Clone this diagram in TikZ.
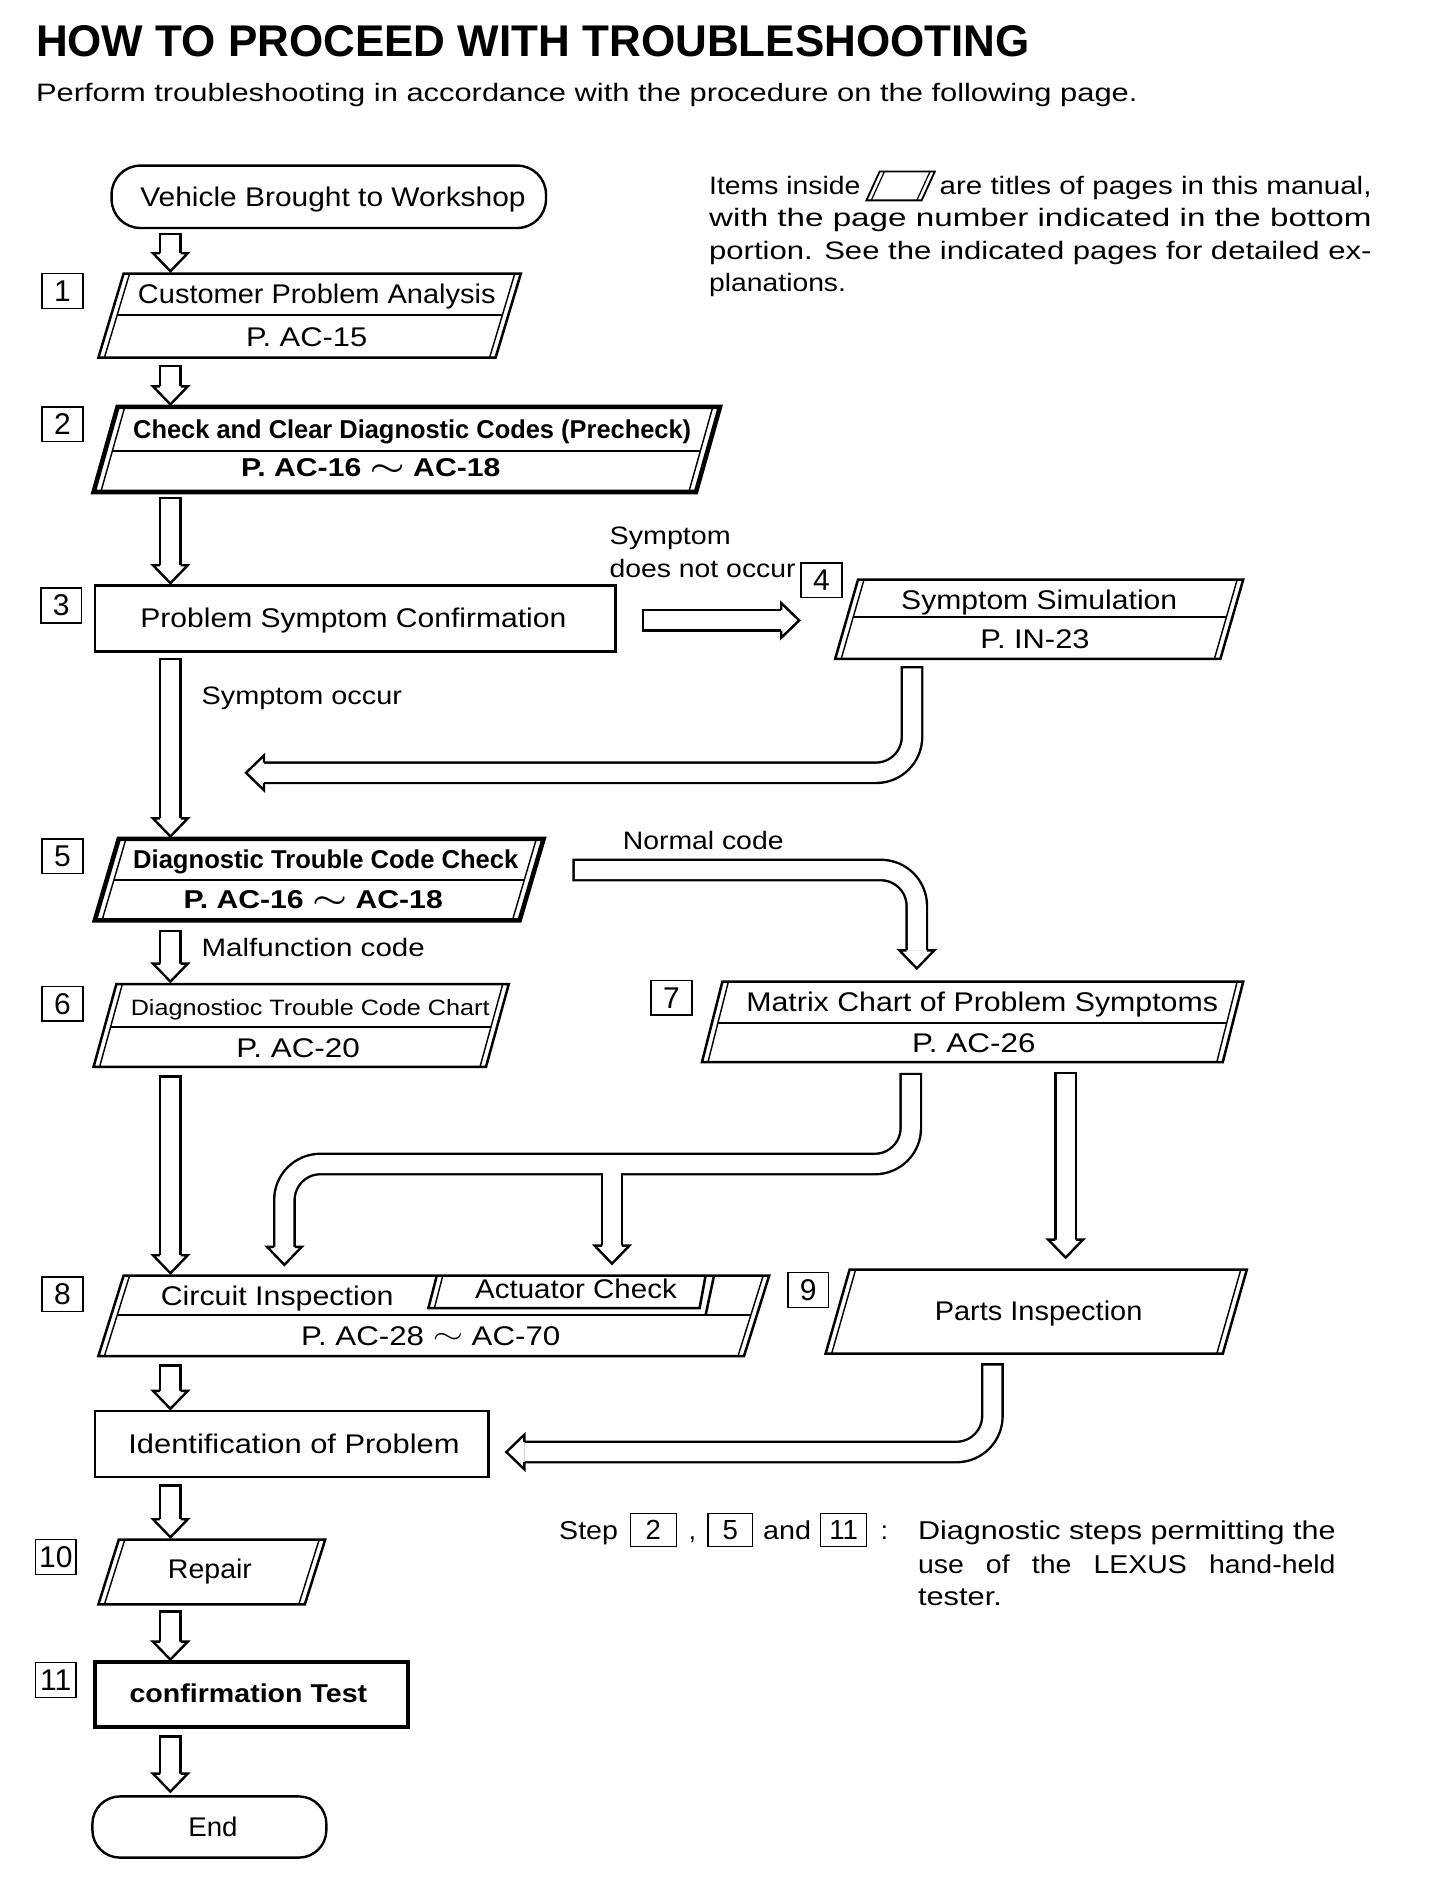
\documentclass[tikz,border=0pt]{standalone}
\usepackage{fontspec}
\setmainfont{Liberation Sans}
\usepackage{graphicx}
\usetikzlibrary{calc,fit}
\newcommand\fitw[2]{\resizebox{#1pt}{\height}{#2}}
\newcommand\fsz[1]{\fontsize{#1}{#1}\selectfont}
\newcommand\tld{\raisebox{0.05em}{\scalebox{1.35}[1.1]{$\sim$}}}
\newcommand\btld{\raisebox{0.05em}{\scalebox{1.35}[1.1]{\boldmath$\sim$}}}
\newcommand\pshape[6]{%
  \coordinate (#1-tl) at (#2,#4);
  \coordinate (#1-tr) at (#3,#4);
  \coordinate (#1-br) at ({#3-#6},#5);
  \coordinate (#1-bl) at ({#2-#6},#5);
  \node[fit=(#1-tl)(#1-tr)(#1-br)(#1-bl), inner sep=0pt, outer sep=0pt] (#1) {};
}
\newcommand\pdraw[4]{%
  \draw[#2] (#1-tl) -- (#1-tr) -- (#1-br) -- (#1-bl) -- cycle;
  \draw[#4] ($(#1-tl)+(#3,0)$) -- ($(#1-bl)+(#3,0)$);
  \draw[#4] ($(#1-tr)+(-#3,0)$) -- ($(#1-br)+(-#3,0)$);
}
\newcommand\pdiv[3]{%
  \draw[divl] ($(#1-tl)!#2!(#1-bl)+(#3,0)$) -- ($(#1-tr)!#2!(#1-br)+(-#3,0)$);
}
\newcommand\blk[3]{%
  \draw[sb] #1;
  \draw[sw, shorten <=2pt] #1;
  \pic[rotate=#3] at #2 {ahead};
}
\begin{document}
\begin{tikzpicture}[x=1pt,y=-1pt,
  every node/.style={outer sep=0pt},
  lab/.style={draw, line width=1.4pt, minimum width=34pt, minimum height=29pt, inner sep=0pt, font=\fsz{25}},
  slab/.style={draw, line width=0.9pt, minimum height=28pt, inner sep=0pt, font=\fsz{23}},
  txt/.style={anchor=base, inner sep=0pt, font=\fsz{22.5}},
  btxt/.style={anchor=base, inner sep=0pt, font=\fsz{21.5}\bfseries},
  side/.style={anchor=base west, inner sep=0pt, font=\fsz{21}},
  boxl/.style={line width=2.1pt, line join=miter},
  boldl/.style={line width=3.8pt, line join=miter},
  innerl/.style={line width=1.2pt},
  divl/.style={line width=1.7pt},
  sb/.style={line width=19pt, black, line cap=butt, line join=round, rounded corners=30pt},
  sw/.style={line width=15pt, white, line cap=butt, line join=round, rounded corners=30pt},
  ahead/.pic={\filldraw[fill=white, draw=black, line width=2pt, line join=miter, miter limit=10] (0,8.5) -- (0,14.5) -- (15,0) -- (0,-14.5) -- (0,-8.5);}
]
\useasboundingbox (0,0) rectangle (1200,1565);
\fill[white] (0,0) rectangle (1200,1565);

% ---------- heading ----------
\node[anchor=base west, inner sep=0pt, font=\fsz{37}\bfseries] (title) at (30,47) {\fitw{828}{HOW TO PROCEED WITH TROUBLESHOOTING}};
\node[anchor=base west, inner sep=0pt, font=\fsz{21}] (sub) at (30,85) {\fitw{918}{Perform troubleshooting in accordance with the procedure on the following page.}};

% ---------- note ----------
\node[side] (note1a) at (591,162) {\fitw{126}{Items inside}};
\draw[line width=1.5pt, line join=miter] (733,143) -- (779,143) -- (768,167) -- (722,167) -- cycle;
\draw[line width=1pt] (737,143) -- (726,167);
\draw[line width=1pt] (775,143) -- (764,167);
\node[side] (note1b) at (783,162) {\fitw{360}{are titles of pages in this manual,}};
\node[side] (note2) at (591,189) {\fitw{552}{with the page number indicated in the bottom}};
\node[side] (note3) at (591,216) {\fitw{552}{portion. See the indicated pages for detailed ex-}};
\node[side] (note4) at (591,243) {\fitw{114}{planations.}};

% ---------- start ----------
\node[draw, line width=2pt, rounded corners=24pt, minimum width=362pt, minimum height=52pt, inner sep=0pt] (veh) at (274,164) {};
\node[txt] (vehT) at (277.5,172) {\fitw{321}{Vehicle Brought to Workshop}};

% ---------- 1 ----------
\node[lab] (n1) at (52,242.5) {1};
\pshape{b1}{103}{434}{228}{298}{21}
\pdraw{b1}{boxl}{5}{innerl}
\pdiv{b1}{0.49}{5}
\node[txt] (b1a) at (264,253) {\fitw{298}{Customer Problem Analysis}};
\node[txt] (b1b) at (255.5,289) {\fitw{101}{P. AC-15}};

% ---------- 2 ----------
\node[lab] (n2) at (52,353.5) {2};
\pshape{b2}{98}{600}{339}{410}{20}
\pdraw{b2}{boldl}{6}{innerl}
\pdiv{b2}{0.52}{6}
\node[btxt] (b2a) at (343.5,365) {\fitw{465}{Check and Clear Diagnostic Codes (Precheck)}};
\node[btxt] (b2b) at (309,397) {\fitw{216}{P. AC-16 \btld{} AC-18}};

% ---------- 3 ----------
\node[lab] (n3) at (51,504.5) {3};
\node[draw, boxl, minimum width=434pt, minimum height=55pt, inner sep=0pt] (b3) at (296,515.5) {};
\node[txt] (b3a) at (294.5,523) {\fitw{355}{Problem Symptom Confirmation}};

% ---------- 4 ----------
\node[side] (sdn1) at (508,454) {\fitw{101}{Symptom}};
\node[side] (sdn2) at (508,481) {\fitw{155}{does not occur}};
\node[lab] (n4) at (684.5,483.5) {4};
\pshape{b4}{715}{1036}{483}{549}{19}
\pdraw{b4}{boxl}{5}{innerl}
\pdiv{b4}{0.47}{5}
\node[txt] (b4a) at (866,508) {\fitw{230}{Symptom Simulation}};
\node[txt] (b4b) at (862.5,540) {\fitw{91}{P. IN-23}};
\node[side] (socc) at (168,587) {\fitw{167}{Symptom occur}};

% ---------- 5 ----------
\node[lab] (n5) at (52,713.5) {5};
\pshape{b5}{99}{453}{699}{767}{20}
\pdraw{b5}{boldl}{6}{innerl}
\pdiv{b5}{0.5}{6}
\node[btxt] (b5a) at (271.5,724) {\fitw{321}{Diagnostic Trouble Code Check}};
\node[btxt] (b5b) at (261,757) {\fitw{216}{P. AC-16 \btld{} AC-18}};
\node[side] (ncode) at (519,708) {\fitw{134}{Normal code}};
\node[side] (mcode) at (168,797) {\fitw{186}{Malfunction code}};

% ---------- 6 ----------
\node[lab] (n6) at (52,836.5) {6};
\pshape{b6}{97}{424}{820}{889}{19}
\pdraw{b6}{boxl}{5}{innerl}
\pdiv{b6}{0.52}{5}
\node[anchor=base, inner sep=0pt, font=\fsz{18.5}] (b6a) at (258.5,846) {\fitw{299}{Diagnostioc Trouble Code Chart}};
\node[txt] (b6b) at (248.5,881) {\fitw{103}{P. AC-20}};

% ---------- 7 ----------
\node[lab] (n7) at (559.5,831.5) {7};
\pshape{b7}{602}{1036}{818}{885}{17}
\pdraw{b7}{boxl}{5}{innerl}
\pdiv{b7}{0.52}{5}
\node[txt] (b7a) at (818.5,843) {\fitw{393}{Matrix Chart of Problem Symptoms}};
\node[txt] (b7b) at (811.5,877) {\fitw{103}{P. AC-26}};

% ---------- 8 ----------
\node[lab] (n8) at (52,1078.5) {8};
\pshape{b8}{103}{641}{1063}{1130}{21}
\pdraw{b8}{boxl}{5}{innerl}
\pdiv{b8}{0.49}{5}
\draw[boxl] (364,1063) -- (357,1090) -- (583,1090) -- (588,1063);
\draw[innerl] (369,1063) -- (362,1090);
\draw[boxl] (595,1063) -- (588,1096);
\node[txt] (b8a) at (231,1088) {\fitw{194}{Circuit Inspection}};
\node[txt] (b8c) at (480,1082) {\fitw{168}{Actuator Check}};
\node[txt] (b8b) at (359,1121) {\fitw{216}{P. AC-28 \tld{} AC-70}};

% ---------- 9 ----------
\node[lab] (n9) at (673.5,1075) {9};
\pshape{b9}{708}{1039}{1058}{1128}{20}
\pdraw{b9}{boxl}{5}{innerl}
\node[txt] (b9a) at (865.5,1100) {\fitw{173}{Parts Inspection}};

% ---------- identification ----------
\node[draw, boxl, minimum width=328pt, minimum height=55pt, inner sep=0pt] (id) at (243,1203.5) {};
\node[txt] (ida) at (245,1211) {\fitw{276}{Identification of Problem}};

% ---------- 10 ----------
\node[lab] (n10) at (46.5,1297.5) {10};
\pshape{b10}{99}{271}{1283}{1337}{17}
\pdraw{b10}{boxl}{5}{innerl}
\node[txt] (b10a) at (175,1315) {\fitw{70}{Repair}};

% ---------- 11 ----------
\node[lab] (n11) at (46.5,1400) {11};
\node[draw, line width=3.8pt, minimum width=261pt, minimum height=54pt, inner sep=0pt] (b11) at (209.5,1412) {};
\node[btxt] (b11a) at (207,1419) {\fitw{198}{confirmation Test}};

% ---------- end ----------
\node[draw, line width=2pt, rounded corners=23pt, minimum width=195pt, minimum height=51pt, inner sep=0pt] (endn) at (174.5,1522.5) {};
\node[txt] (enda) at (177.5,1530) {\fitw{41}{End}};

% ---------- step note ----------
\node[anchor=base west, inner sep=0pt, font=\fsz{21.5}] (stp) at (466,1283) {\fitw{49}{Step}};
\node[slab, minimum width=38pt] (s2) at (544.5,1275) {2};
\node[anchor=base, inner sep=0pt, font=\fsz{21.5}] (cma) at (577,1283) {,};
\node[slab, minimum width=37pt] (s5) at (608.5,1275) {5};
\node[anchor=base west, inner sep=0pt, font=\fsz{21.5}] (andw) at (636,1283) {\fitw{40}{and}};
\node[slab, minimum width=38pt] (s11) at (703,1275) {11};
\node[anchor=base, inner sep=0pt, font=\fsz{21.5}] (cln) at (737,1283) {:};
\node[anchor=base west, inner sep=0pt, font=\fsz{21.5}] (d1) at (765,1283) {\fitw{348}{Diagnostic steps permitting the}};
\node[anchor=base west, inner sep=0pt, font=\fsz{21.5}] (d2) at (765,1311) {\fitw{348}{use\hspace{0.5em} of\hspace{0.5em} the\hspace{0.5em} LEXUS\hspace{0.5em} hand-held}};
\node[anchor=base west, inner sep=0pt, font=\fsz{21.5}] (d3) at (765,1338) {\fitw{70}{tester.}};

% ---------- connectors ----------
\coordinate (colx) at (142,0);
\coordinate (x4) at (760,0);
\coordinate (x7a) at (759,0);
\coordinate (x7b) at (888,0);
\coordinate (x9) at (827,0);
\coordinate (xl) at (237,0);
\coordinate (xt) at (510,0);
\coordinate (xn) at (764,0);

\blk{($(veh.south -| colx)+(0,4)$) -- ($(b1.north -| colx)+(0,-17)$)}{($(b1.north -| colx)+(0,-17)$)}{-90}
\blk{($(b1.south -| colx)+(0,6)$) -- ($(b2.north -| colx)+(0,-17)$)}{($(b2.north -| colx)+(0,-17)$)}{-90}
\blk{($(b2.south -| colx)+(0,4)$) -- ($(b3.north -| colx)+(0,-17)$)}{($(b3.north -| colx)+(0,-17)$)}{-90}
\blk{($(b3.south -| colx)+(0,5)$) -- ($(b5.north -| colx)+(0,-17)$)}{($(b5.north -| colx)+(0,-17)$)}{-90}
\blk{($(b5.south -| colx)+(0,8)$) -- ($(b6.north -| colx)+(0,-17)$)}{($(b6.north -| colx)+(0,-17)$)}{-90}
\blk{($(b6.south -| colx)+(0,7)$) -- ($(b8.north -| colx)+(0,-17)$)}{($(b8.north -| colx)+(0,-17)$)}{-90}
\blk{($(b8.south -| colx)+(0,7)$) -- ($(id.north -| colx)+(0,-17)$)}{($(id.north -| colx)+(0,-17)$)}{-90}
\blk{($(id.south -| colx)+(0,6)$) -- ($(b10.north -| colx)+(0,-17)$)}{($(b10.north -| colx)+(0,-17)$)}{-90}
\blk{($(b10.south -| colx)+(0,5)$) -- ($(b11.north -| colx)+(0,-17)$)}{($(b11.north -| colx)+(0,-17)$)}{-90}
\blk{($(b11.south -| colx)+(0,7)$) -- ($(endn.north -| colx)+(0,-19)$)}{($(endn.north -| colx)+(0,-19)$)}{-90}

% 3 -> 4
\blk{($(b3.east)+(22,1.5)$) -- ($(b4.west)+(-45,1)$)}{($(b4.west)+(-45,1)$)}{0}
% 4 -> back
\coordinate (ret) at (220,644);
\blk{($(b4.south -| x4)+(0,6)$) -- (x4 |- ret) -- (ret)}{(ret)}{180}
% 5 -> 7
\coordinate (nc) at ($(b5.east)+(24,-8)$);
\blk{(nc) -- (nc -| xn) -- ($(b7.north -| xn)+(0,-26)$)}{($(b7.north -| xn)+(0,-26)$)}{-90}
% 7 -> 9
\blk{($(b7.south -| x7b)+(0,8)$) -- ($(b9.north -| x7b)+(0,-25)$)}{($(b9.north -| x7b)+(0,-25)$)}{-90}
% 7 -> 8 (branched)
\coordinate (j1) at (759,970);
\coordinate (j2) at (237,970);
\coordinate (jt) at (510,970);
\coordinate (hl) at ($(b8.north -| xl)+(0,-24)$);
\coordinate (ht) at ($(b8.north -| xt)+(0,-25)$);
\draw[sb] ($(b7.south -| x7a)+(0,9)$) -- (j1) -- (j2) -- (hl);
\draw[sb] (jt) -- (ht);
\draw[sw, shorten <=2pt] ($(b7.south -| x7a)+(0,9)$) -- (j1) -- (j2) -- (hl);
\draw[sw] (jt) -- (ht);
\pic[rotate=-90] at (hl) {ahead};
\pic[rotate=-90] at (ht) {ahead};
% 9 -> identification
\coordinate (pe) at ($(id.east)+(30,6.5)$);
\blk{($(b9.south -| x9)+(0,8)$) -- (x9 |- pe) -- (pe)}{(pe)}{180}
\end{tikzpicture}
\end{document}
